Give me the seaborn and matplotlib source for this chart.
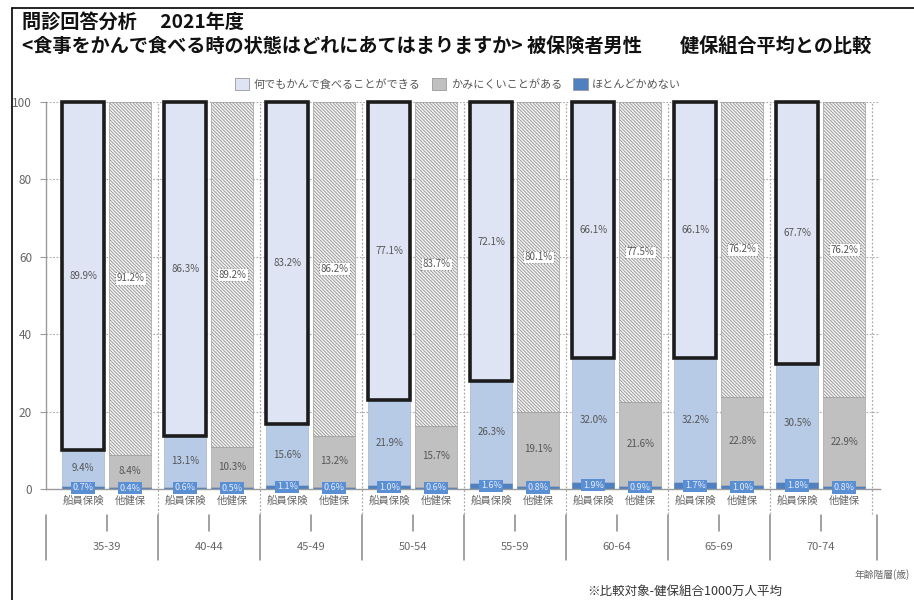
import numpy as np
import pandas as pd
import matplotlib
matplotlib.use("Agg")
import matplotlib.pyplot as plt
import seaborn as sns
from matplotlib.patches import Patch
from matplotlib.lines import Line2D

# ---------------- data ----------------
age_groups = ["35-39", "40-44", "45-49", "50-54", "55-59", "60-64", "65-69", "70-74"]
insurers = ["船員保険", "他健保"]
categories = ["何でもかんで食べることができる", "かみにくいことがある", "ほとんどかめない"]

senin_can = [89.9, 86.3, 83.2, 77.1, 72.1, 66.1, 66.1, 67.7]
senin_hard = [9.4, 13.1, 15.6, 21.9, 26.3, 32.0, 32.2, 30.5]
senin_cannot = [0.7, 0.6, 1.1, 1.0, 1.6, 1.9, 1.7, 1.8]

other_can = [91.2, 89.2, 86.2, 83.7, 80.1, 77.5, 76.2, 76.2]
other_hard = [8.4, 10.3, 13.2, 15.7, 19.1, 21.6, 22.8, 22.9]
other_cannot = [0.4, 0.5, 0.6, 0.6, 0.8, 0.9, 1.0, 0.8]

y_ticks = [0, 20, 40, 60, 80, 100]
title_line1 = "問診回答分析　 2021年度"
title_line2 = "<食事をかんで食べる時の状態はどれにあてはまりますか> 被保険者男性　　健保組合平均との比較"
x_title = "年齢階層(歳)"
footnote = "※比較対象-健保組合1000万人平均"

# ---------------- style ----------------
sns.set_theme(style="white")
plt.rcParams['font.family'] = ['Noto Sans CJK JP', 'DejaVu Sans']
plt.rcParams['hatch.linewidth'] = 0.55

C_CAN = "#dfe4f4"
C_HARD_S = "#b8cbe6"
C_HARD_O = "#c0c0c0"
C_CANNOT = "#4f80c0"
C_TXT = "#555555"
C_AX = "#9a9a9a"

fig = plt.figure(figsize=(9.14, 6.0), dpi=100)
ax = fig.add_axes([46 / 914, 1 - 489 / 600, (880 - 46) / 914, 387 / 600])

idx = np.arange(len(age_groups))
off = 0.23
bw = 0.41
pos_s = idx - off
pos_o = idx + off

def stacked(pos, cannot, hard, can, hard_color, is_senin):
    cannot = np.array(cannot)
    hard = np.array(hard)
    can = np.array(can)
    # bottom segment
    sns.barplot(x=pos, y=cannot, native_scale=True, width=bw, color=C_CANNOT,
                saturation=1, edgecolor=C_CANNOT, linewidth=0.5, errorbar=None, ax=ax)
    c_bot = ax.containers[-1]
    # middle segment
    sns.barplot(x=pos, y=hard, bottom=cannot, native_scale=True, width=bw, color=hard_color,
                saturation=1, edgecolor="#aab4c4" if is_senin else "#a8a8a8",
                linewidth=0.5, errorbar=None, ax=ax)
    c_mid = ax.containers[-1]
    # top segment
    if is_senin:
        sns.barplot(x=pos, y=can, bottom=cannot + hard, native_scale=True, width=bw,
                    color=C_CAN, saturation=1, edgecolor="#1c1c1c", linewidth=2.6,
                    errorbar=None, ax=ax)
    else:
        sns.barplot(x=pos, y=can, bottom=cannot + hard, native_scale=True, width=bw,
                    color="#f2f2f2", saturation=1, edgecolor="#8c8c8c", linewidth=0.4,
                    hatch="\\" * 10, errorbar=None, ax=ax)
    c_top = ax.containers[-1]
    for p in c_top.patches:
        p.set_clip_on(False)
    # labels
    ax.bar_label(c_bot, labels=[f"{v:.1f}%" for v in cannot], label_type="center",
                 fontsize=6.5, color="#e6edf8",
                 bbox=dict(boxstyle="square,pad=0.18", facecolor="#5b8fd4", edgecolor="none"))
    ax.bar_label(c_mid, labels=[f"{v:.1f}%" for v in hard], label_type="center",
                 fontsize=7, color=C_TXT)
    if is_senin:
        ax.bar_label(c_top, labels=[f"{v:.1f}%" for v in can], label_type="center",
                     fontsize=7, color=C_TXT)
    else:
        ax.bar_label(c_top, labels=[f"{v:.1f}%" for v in can], label_type="center",
                     fontsize=7, color=C_TXT,
                     bbox=dict(boxstyle="square,pad=0.15", facecolor="white",
                               edgecolor="#888888", linestyle=":", linewidth=0.8))

stacked(pos_o, other_cannot, other_hard, other_can, C_HARD_O, False)
stacked(pos_s, senin_cannot, senin_hard, senin_can, C_HARD_S, True)

# axes limits / grid
xl, xr = -0.595, 7.58
ax.set_xlim(xl, xr)
ax.set_ylim(0, 100)
ax.set_yticks(y_ticks)
ax.set_yticklabels([str(v) for v in y_ticks], fontsize=8.5, color="#666666")
for y in y_ticks[1:]:
    ax.axhline(y, color="#aaaaaa", linestyle=(0, (1.5, 1.5)), linewidth=0.8, zorder=0)
ax.tick_params(axis="y", length=4, width=0.8, color=C_AX, pad=6, left=True)

# sub category tick labels
ticks = np.sort(np.concatenate([pos_s, pos_o]))
labels = []
for i in range(len(age_groups)):
    labels += insurers
ax.set_xticks(ticks)
ax.set_xticklabels(labels, fontsize=7.5, color="#666666")
ax.tick_params(axis="x", length=0, pad=5)
ax.set_xlabel("")
ax.set_ylabel("")

for s in ["top", "right"]:
    ax.spines[s].set_visible(False)
for s in ["left", "bottom"]:
    ax.spines[s].set_color(C_AX)
    ax.spines[s].set_linewidth(1.0)

trans = ax.get_xaxis_transform()
# dotted group separators
for i in range(len(age_groups)):
    ax.plot([i + 0.5, i + 0.5], [-0.065, 1.0], transform=trans, clip_on=False,
            color="#aaaaaa", linestyle=(0, (1.5, 1.5)), linewidth=0.9, zorder=0.5)

# multi-level axis below
bounds = [xl] + [i + 0.5 for i in range(len(age_groups) - 1)] + [7.55]
for b in bounds:
    ax.plot([b, b], [-0.068, -0.183], transform=trans, clip_on=False,
            color="#888888", linewidth=1.1)
for i, g in enumerate(age_groups):
    ax.plot([i, i], [-0.068, -0.108], transform=trans, clip_on=False,
            color="#888888", linewidth=1.1)
    ax.text(i, -0.150, g, transform=trans, ha="center", va="center",
            fontsize=8, color="#666666")

fig.text(910 / 914, 1 - 575 / 600, x_title, ha="right", va="center", fontsize=7, color="#666666")
fig.text(685 / 914, 1 - 591 / 600, footnote, ha="center", va="center", fontsize=9, color="#333333")

# titles
fig.text(22 / 914, 1 - 22 / 600, title_line1, ha="left", va="center", fontsize=13.8,
         fontweight="bold", color="#111111")
fig.text(22 / 914, 1 - 47 / 600, title_line2, ha="left", va="center", fontsize=13.8,
         fontweight="bold", color="#111111")

# legend
handles = [
    Patch(facecolor=C_CAN, edgecolor="#999999", linewidth=0.6),
    Patch(facecolor=C_HARD_O, edgecolor="#999999", linewidth=0.6),
    Patch(facecolor=C_CANNOT, edgecolor="#999999", linewidth=0.6),
]
fig.legend(handles, categories, loc="center", bbox_to_anchor=(458 / 914, 1 - 84 / 600),
           ncol=3, frameon=False, fontsize=8, handlelength=1.3, handleheight=1.3,
           handletextpad=0.4, columnspacing=1.0, labelcolor="#555555")

# frame lines (scan border)
fig.add_artist(Line2D([12 / 914, 12 / 914], [0, 1 - 8 / 600], color="black", linewidth=1.2,
                      transform=fig.transFigure))
fig.add_artist(Line2D([12 / 914, 1], [1 - 8 / 600, 1 - 8 / 600], color="black", linewidth=1.2,
                      transform=fig.transFigure))

fig.savefig("out.png", dpi=100)
